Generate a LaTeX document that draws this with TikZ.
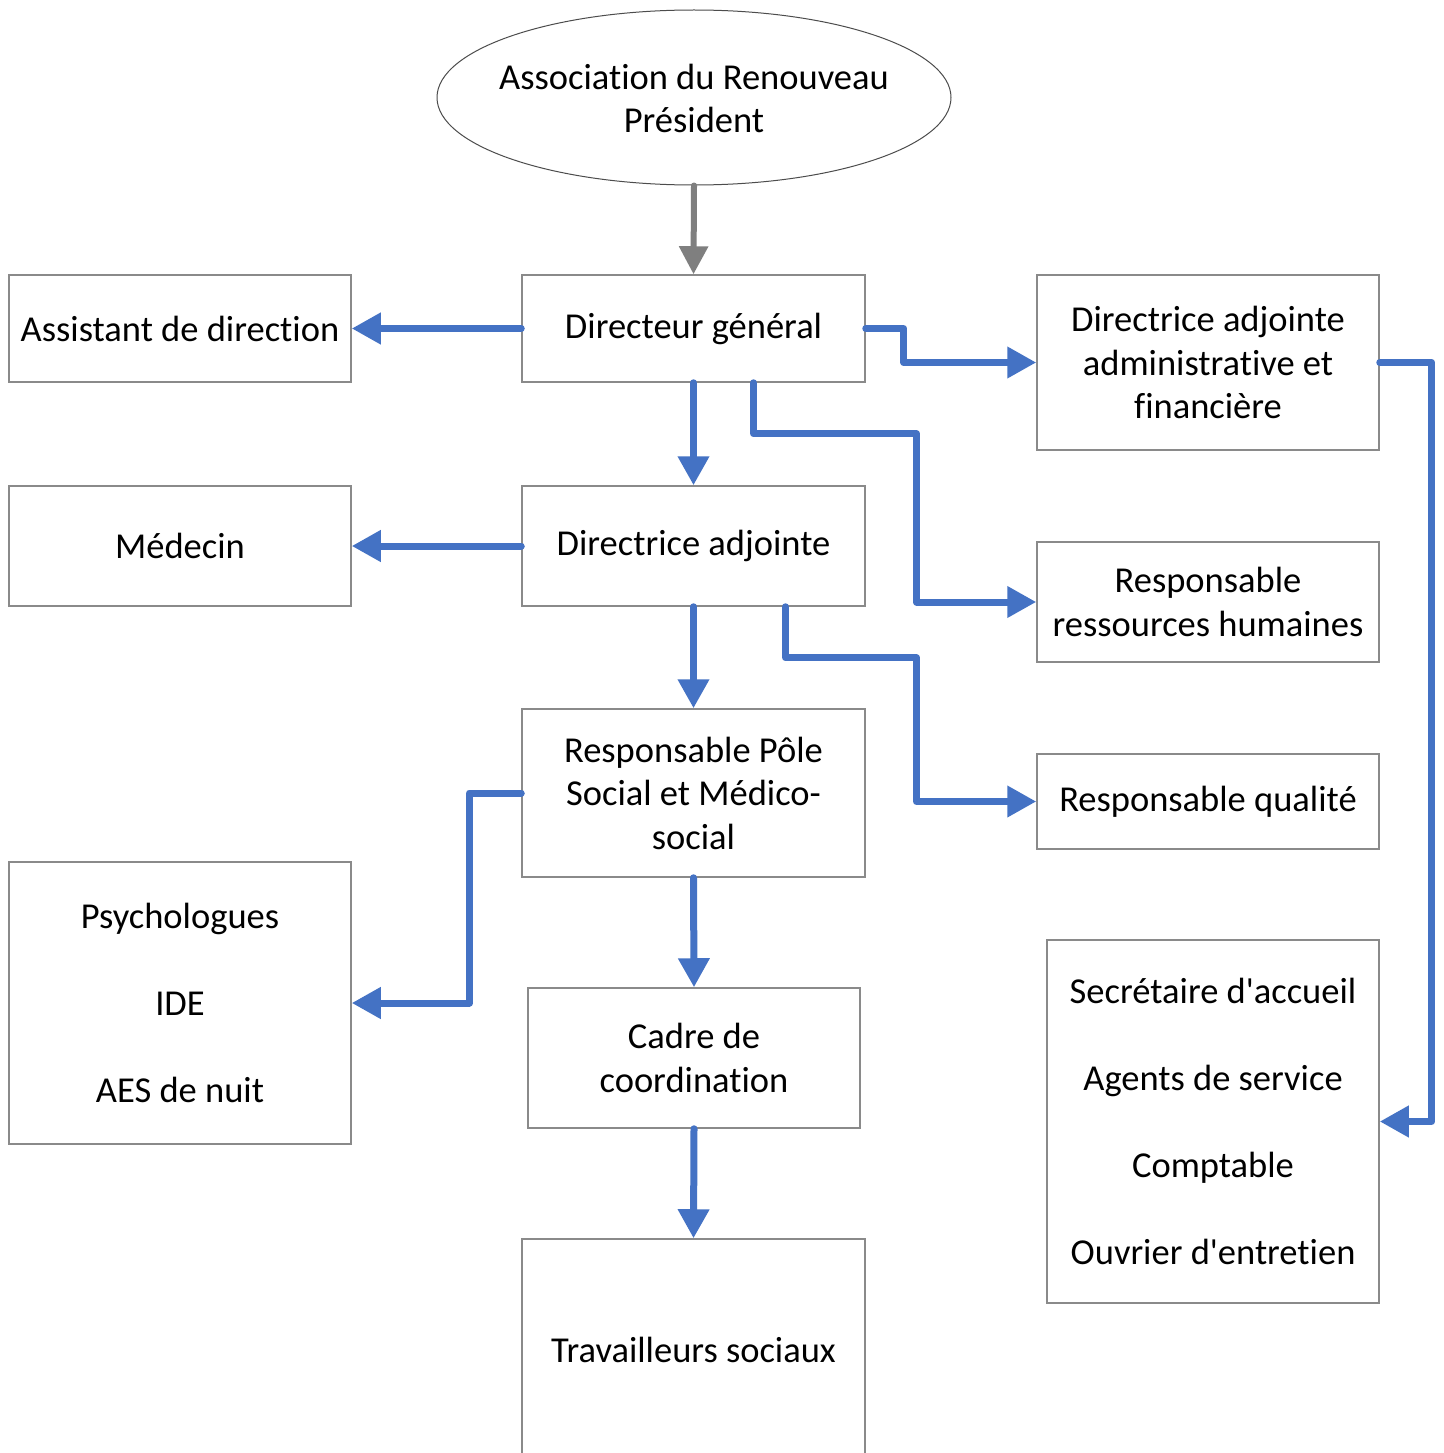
\documentclass[tikz,border=0pt]{standalone}
\usepackage{fontspec}
\setmainfont{Carlito}[Ligatures={NoCommon}]
\usetikzlibrary{arrows.meta,calc,shapes.geometric}
\definecolor{myblue}{HTML}{4472C4}
\definecolor{arrgray}{HTML}{7F7F7F}
\definecolor{boxgray}{HTML}{8A8A8A}
\newcommand\tinolig{t\kern0pt i}
\begin{document}
\begin{tikzpicture}[x=1pt,y=-1pt,
  txt/.style={font=\fontsize{36.5}{43.5}\selectfont,align=center,inner sep=0pt},
  box/.style={txt,draw=boxgray,line width=1.5pt},
  conn/.style={draw=myblue,line width=7pt,line join=round,line cap=round,-{Triangle[length=29pt,width=30pt]}},
  gconn/.style={draw=arrgray,line width=6pt,line cap=round,-{Triangle[length=28pt,width=28pt]}}]
\useasboundingbox (0,0) rectangle (1443,1453);
\fill[white] (0,0) rectangle (1443,1453);
\clip (0,0) rectangle (1443,1453);
% nodes
\node[draw=black!70,line width=1pt,ellipse,inner sep=0pt,minimum width=514pt,minimum height=175pt] (pres) at (694,97.5) {};
\node[txt] (prestxt) at (694,98.5) {Associa\tinolig on du Renouveau\\Président};
\node[box,minimum width=343pt,minimum height=107pt] (dg) at (693.5,328.5) {Directeur général};
\node[box,minimum width=342pt,minimum height=107pt] (ad) at (180,328.5) {Assistant de direc\tinolig on};
\node[box,minimum width=342pt,minimum height=175pt] (daaf) at (1208,362.5) {Directrice adjointe\\administrative et\\financière};
\node[box,minimum width=343pt,minimum height=120pt] (da) at (693.5,546) {Directrice adjointe};
\node[box,minimum width=342pt,minimum height=120pt] (med) at (180,546) {Médecin};
\node[box,minimum width=342pt,minimum height=120pt] (rh) at (1208,602) {Responsable\\ressources humaines};
\node[box,minimum width=343pt,minimum height=168pt] (rp) at (693.5,793) {Responsable Pôle\\Social et Médico-\\social};
\node[box,minimum width=342pt,minimum height=95pt] (rq) at (1208,801.5) {Responsable qualité};
\node[box,minimum width=342pt,minimum height=282pt] (psy) at (180,1003) {Psychologues\\[43.5pt]IDE\\[43.5pt]AES de nuit};
\node[box,minimum width=332pt,minimum height=140pt] (cc) at (694,1058) {Cadre de\\coordina\tinolig on};
\node[box,minimum width=332pt,minimum height=363pt] (sec) at (1213,1121.5) {Secrétaire d\textquotesingle accueil\\[43.5pt]Agents de service\\[43.5pt]Comptable\\[43.5pt]Ouvrier d\textquotesingle entretien};
\node[box,minimum width=343pt,minimum height=222pt] (ts) at (693.5,1350) {Travailleurs sociaux};
% connectors
\draw[gconn] (pres.south) -- (dg.north);
\draw[conn] (dg.west) -- (ad.east);
\draw[conn] (dg.east) -- ++(38,0) |- (daaf.west);
\draw[conn] (dg.south) -- (da.north);
\draw[conn] ($(dg.south)+(60,0)$) -- ++(0,51) -- ++(163,0) |- (rh.west);
\draw[conn] (da.west) -- (med.east);
\draw[conn] (da.south) -- (rp.north);
\draw[conn] ($(da.south)+(92,0)$) -- ++(0,51) -- ++(131,0) |- (rq.west);
\draw[conn] (rp.west) -- ++(-52,0) |- (psy.east);
\draw[conn] (rp.south) -- (cc.north);
\draw[conn] (cc.south) -- (ts.north);
\draw[conn] (daaf.east) -- ++(52,0) |- (sec.east);
\end{tikzpicture}
\end{document}
